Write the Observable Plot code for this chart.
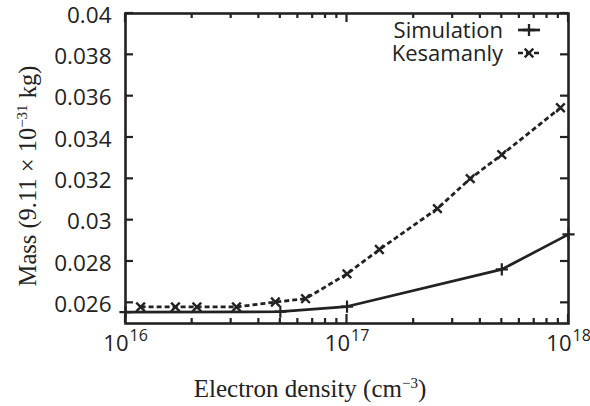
<!DOCTYPE html>
<html><head><meta charset="utf-8">
<script src="https://cdn.jsdelivr.net/npm/d3@7"></script>
<script src="https://cdn.jsdelivr.net/npm/@observablehq/plot@0.6"></script>
<style>
html,body{margin:0;padding:0;background:#fff;}
#chart{position:relative;width:590px;height:406px;}
</style></head><body><div id="chart"></div>
<script>
// ---- data ----
const simDensity = [1e16, 5e16, 1e17, 5e17, 1e18];
const simMass = [0.02555, 0.02557, 0.02582, 0.02762, 0.02931];
const kesDensity = [1.17e16, 1.68e16, 2.1e16, 3.17e16, 4.75e16, 6.5e16, 1e17, 1.4e17, 2.56e17, 3.6e17, 5e17, 9.2e17];
const kesMass = [0.0258, 0.0258, 0.0258, 0.0258, 0.02604, 0.0262, 0.0274, 0.02858, 0.03056, 0.03201, 0.03317, 0.03544];
const seriesNames = ["Simulation", "Kesamanly"];
const yTicks = [0.026, 0.028, 0.03, 0.032, 0.034, 0.036, 0.038, 0.04];
const yTickLabels = ["0.026", "0.028", "0.03", "0.032", "0.034", "0.036", "0.038", "0.04"];
const xMajor = [1e16, 1e17, 1e18];
const xExponents = ["16", "17", "18"];
const xMinor = [2e16, 3e16, 4e16, 5e16, 6e16, 7e16, 8e16, 9e16, 2e17, 3e17, 4e17, 5e17, 6e17, 7e17, 8e17, 9e17];
const xTitleMain = "Electron density (cm", xTitleSup = "\u22123", xTitleEnd = ")";
const yTitleMain = "Mass (9.11 \u00d7 10", yTitleSup = "\u221231", yTitleEnd = " kg)";

const sim = simDensity.map((d, i) => ({x: d, y: simMass[i]}));
const kes = kesDensity.map((d, i) => ({x: d, y: kesMass[i]}));

const W = 590, H = 406, mL = 125, mR = 22, mT = 13, mB = 83;
const ink = "#222";
const sans = "'Open Sans', 'DejaVu Sans', sans-serif";
const serif = "'Liberation Serif', 'DejaVu Serif', serif";

const svg = Plot.plot({
  width: W, height: H,
  marginLeft: mL, marginRight: mR, marginTop: mT, marginBottom: mB,
  style: {fontFamily: sans, color: ink, background: "#fff"},
  x: {type: "log", domain: [1e16, 1e18], axis: null},
  y: {domain: [0.025, 0.04], axis: null},
  marks: [
    // y tick labels
    Plot.axisY({ticks: yTicks, tickSize: 0, tickPadding: 14, dy: 2, tickFormat: d => yTickLabels[yTicks.indexOf(d)],
      fontSize: 22.5, fontFamily: sans, fill: ink, label: null}),
    // x tick labels 10^n
    Plot.text(xMajor, {x: d => d, frameAnchor: "bottom", text: () => "10", textAnchor: "end", dx: 3, dy: 27,
      fontSize: 22, fontFamily: sans, fill: ink}),
    Plot.text(xMajor, {x: d => d, frameAnchor: "bottom", text: (d, i) => xExponents[i], textAnchor: "start", dx: 4, dy: 17,
      fontSize: 16, fontFamily: sans, fill: ink}),
    // data
    Plot.line(sim, {x: "x", y: "y", stroke: ink, strokeWidth: 2.7, strokeLinecap: "butt"}),
    Plot.dot(sim, {x: "x", y: "y", symbol: "plus", r: 4, stroke: ink, strokeWidth: 2.2}),
    Plot.line(kes, {x: "x", y: "y", stroke: ink, strokeWidth: 2.8, strokeDasharray: "5,3", strokeLinecap: "butt"}),
    Plot.dot(kes, {x: "x", y: "y", symbol: "times", r: 4, stroke: ink, strokeWidth: 2.4}),
    Plot.frame({stroke: ink, strokeWidth: 2.6})
  ]
});

const s = d3.select(svg);
const xs = svg.scale("x"), ys = svg.scale("y");
// inward ticks on all four sides, positioned with Plot's scales
const tg = s.append("g").attr("stroke", ink).attr("stroke-width", 2.2);
const fLeft = mL, fRight = W - mR, fTop = mT, fBottom = H - mB;
yTicks.forEach(v => {
  const y = ys.apply(v);
  tg.append("line").attr("x1", fLeft).attr("x2", fLeft + 8).attr("y1", y).attr("y2", y);
  tg.append("line").attr("x1", fRight - 8).attr("x2", fRight).attr("y1", y).attr("y2", y);
});
[[xMajor, 9], [xMinor, 5]].forEach(([vals, len]) => vals.forEach(v => {
  const x = xs.apply(v);
  tg.append("line").attr("x1", x).attr("x2", x).attr("y1", fBottom).attr("y2", fBottom - len);
  tg.append("line").attr("x1", x).attr("x2", x).attr("y1", fTop).attr("y2", fTop + len);
}));
// x title
const xt = s.append("text").attr("x", 310).attr("y", 397).attr("text-anchor", "middle")
  .attr("font-family", serif).attr("font-size", 25).attr("fill", ink);
xt.append("tspan").text(xTitleMain);
xt.append("tspan").attr("dy", -9).attr("font-size", 15).text(xTitleSup);
xt.append("tspan").attr("dy", 9).text(xTitleEnd);
// y title
const yt = s.append("text").attr("transform", "translate(36,176) rotate(-90)").attr("text-anchor", "middle")
  .attr("font-family", serif).attr("font-size", 24.5).attr("fill", ink);
yt.append("tspan").text(yTitleMain);
yt.append("tspan").attr("dy", -9).attr("font-size", 15).text(yTitleSup);
yt.append("tspan").attr("dy", 9).text(yTitleEnd);
// legend
const lg = s.append("g").attr("font-family", sans).attr("font-size", 22).attr("fill", ink);
const rows = [{y: 30, dash: null, sym: d3.symbolPlus}, {y: 53, dash: "5,3", sym: d3.symbolTimes}];
seriesNames.forEach((name, i) => {
  const r = rows[i];
  lg.append("text").attr("x", 503).attr("y", r.y + 8).attr("text-anchor", "end").text(name);
  const ln = lg.append("line").attr("x1", 518).attr("x2", 540).attr("y1", r.y).attr("y2", r.y)
    .attr("stroke", ink).attr("stroke-width", 2.7);
  if (r.dash) ln.attr("stroke-dasharray", r.dash);
  lg.append("path").attr("transform", `translate(529,${r.y})`)
    .attr("d", d3.symbol(r.sym, Math.PI * 4 * 4)()).attr("fill", "none").attr("stroke", ink).attr("stroke-width", 2.3);
});

document.getElementById("chart").appendChild(svg);
</script>
</body></html>
